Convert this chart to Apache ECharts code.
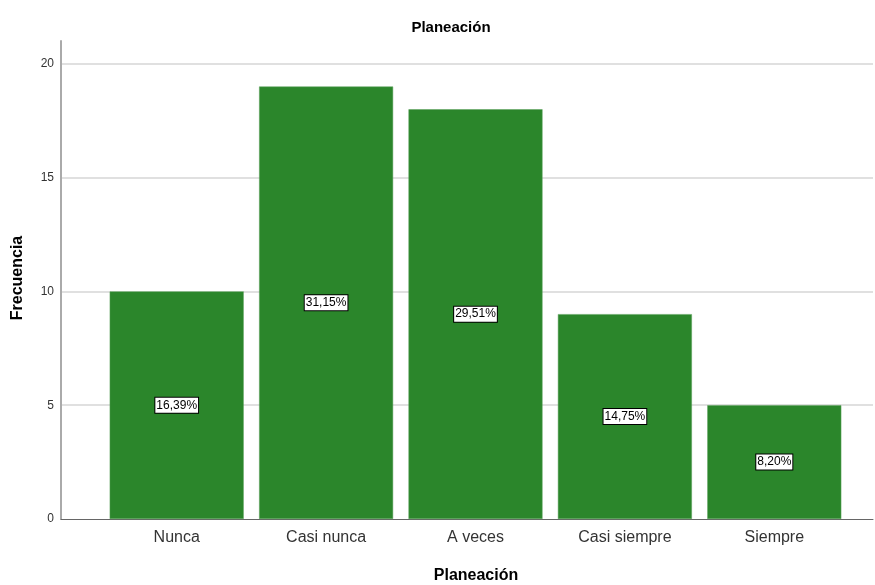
<!DOCTYPE html>
<html><head><meta charset="utf-8">
<script src="https://cdn.jsdelivr.net/npm/echarts@6/dist/echarts.min.js"></script>
<style>html,body{margin:0;padding:0;background:#fff}#c{width:875px;height:585px}</style>
</head><body><div id="c"></div>
<script>
var categories = ['Nunca', 'Casi nunca', 'A veces', 'Casi siempre', 'Siempre'];
var frequencies = [10, 19, 18, 9, 5];
var percentLabels = ['16,39%', '31,15%', '29,51%', '14,75%', '8,20%'];
var titleText = 'Planeación';
var xName = 'Planeación';
var yName = 'Frecuencia';

var FONT = '"Liberation Sans", Arial, sans-serif';
var chart = echarts.init(document.getElementById('c'), null, {renderer: 'canvas'});
chart.setOption({
  backgroundColor: '#fff',
  animation: false,
  title: {
    text: titleText, left: 446, top: 15, textAlign: 'center',
    textStyle: {fontFamily: FONT, fontSize: 15, fontWeight: 'bold', color: '#000'}
  },
  grid: [
    {left: 61, right: 2, top: 41, bottom: 66, containLabel: false, outerBoundsMode: 'none'},
    {left: 102, right: 26, top: 41, bottom: 66, containLabel: false, outerBoundsMode: 'none'}
  ],
  xAxis: [
    {gridIndex: 0, type: 'value', min: 0, max: 1, axisLine: {show: true, onZero: false, lineStyle: {color: '#666', width: 1}},
     axisTick: {show: false}, axisLabel: {show: false}, splitLine: {show: false},
     name: xName, nameLocation: 'middle', nameGap: 49,
     nameTextStyle: {fontFamily: FONT, fontSize: 16, fontWeight: 'bold', color: '#000', padding: [0, 0, 0, 18]}},
    {gridIndex: 1, type: 'category', data: categories, axisLine: {show: false}, axisTick: {show: false},
     axisLabel: {fontFamily: FONT, fontSize: 16, color: '#333', margin: 11}}
  ],
  yAxis: [
    {gridIndex: 0, type: 'value', min: 0, max: 21, interval: 5,
     axisLine: {show: true, lineStyle: {color: '#aaa', width: 2}}, axisTick: {show: false},
     axisLabel: {fontFamily: FONT, fontSize: 12, color: '#333', margin: 7, showMaxLabel: false},
     splitLine: {show: true, showMinLine: false, showMaxLine: false, lineStyle: {color: '#d6d6d6', width: 1.5}},
     name: yName, nameLocation: 'middle', nameGap: 35,
     nameTextStyle: {fontFamily: FONT, fontSize: 16, fontWeight: 'bold', color: '#000', padding: [0, 0, 0, 4]}},
    {gridIndex: 1, type: 'value', min: 0, max: 21, show: false, splitLine: {show: false}}
  ],
  series: [{
    type: 'bar', xAxisIndex: 1, yAxisIndex: 1, data: frequencies, barWidth: 134,
    itemStyle: {color: '#2b862b', borderColor: '#5aa05a', borderWidth: 0.5},
    label: {
      show: true, position: 'inside',
      formatter: function (p) { return percentLabels[p.dataIndex]; },
      fontFamily: FONT, fontSize: 12, color: '#000', backgroundColor: '#fff',
      borderColor: '#000', borderWidth: 1, padding: [2, 1, 1, 1]
    }
  }]
});
</script></body></html>
